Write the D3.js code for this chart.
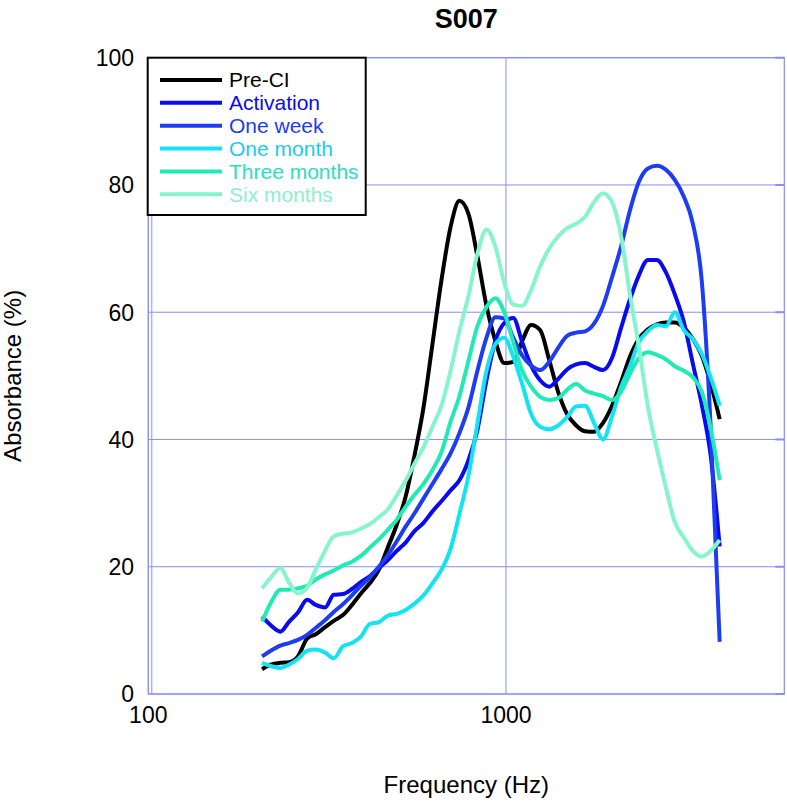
<!DOCTYPE html>
<meta charset="utf-8">
<script src="https://d3js.org/d3.v7.min.js"></script>
<style>
  body { margin: 0; background: #fff; }
  svg { display: block; font-family: "Liberation Sans", Arial, sans-serif; }
</style>
<div id="chart"></div>
<script>

// frequencies (Hz), 1/12 octave steps
var freqs = [208, 220, 234, 247, 262, 278, 294, 312, 330, 350, 371, 393,
  416, 441, 467, 495, 524, 555, 588, 623, 660, 700, 741, 785,
  832, 882, 934, 989, 1048, 1110, 1176, 1246, 1321, 1399, 1482, 1571,
  1664, 1763, 1868, 1979, 2097, 2221, 2353, 2493, 2641, 2798, 2965, 3141,
  3328, 3526, 3735, 3958]

// absorbance (%) per visit
var preCI = [3.9, 4.6, 4.9, 5.0, 5.9, 8.7, 9.4, 10.5, 11.5, 12.4, 14.0, 15.8,
  17.4, 19.5, 23.0, 26.6, 31.0, 37.5, 45.0, 55.0, 65.0, 73.4, 77.5, 75.5,
  68.8, 61.0, 55.5, 52.0, 52.2, 55.5, 58.0, 57.2, 52.5, 47.5, 44.0, 42.2,
  41.3, 41.2, 42.6, 45.3, 49.0, 53.0, 55.8, 57.3, 58.1, 58.4, 58.4, 57.6,
  55.8, 53.2, 48.8, 43.2]
var activation = [12.2, 10.8, 9.8, 11.3, 12.8, 14.8, 14.0, 13.6, 15.6, 15.7, 16.5, 17.6,
  18.5, 19.8, 21.0, 22.5, 23.8, 25.6, 26.9, 28.7, 30.3, 32.0, 33.6, 36.7,
  41.5, 49.3, 55.5, 58.3, 59.1, 55.3, 51.6, 49.3, 48.3, 49.5, 51.0, 51.8,
  52.0, 51.4, 50.9, 52.8, 57.5, 62.0, 65.8, 68.2, 68.2, 66.3, 62.8, 58.5,
  52.0, 45.5, 37.5, 23.2]
var oneWeek = [5.9, 6.8, 7.6, 8.0, 8.5, 9.3, 10.4, 11.6, 12.9, 14.1, 15.5, 17.0,
  18.3, 20.0, 21.8, 24.0, 26.3, 28.4, 30.7, 33.0, 35.3, 37.8, 41.0, 45.0,
  50.8, 56.0, 59.2, 59.0, 56.0, 53.2, 51.6, 50.9, 52.2, 54.4, 56.3, 56.8,
  57.0, 58.2, 61.0, 65.5, 70.3, 76.0, 80.5, 82.6, 83.0, 82.4, 80.8, 78.2,
  74.0, 65.0, 42.0, 8.2]
var oneMonth = [4.9, 4.4, 4.1, 4.6, 5.5, 6.8, 7.0, 6.5, 5.6, 7.5, 8.0, 9.0,
  11.0, 11.3, 12.3, 12.6, 13.2, 14.2, 15.5, 17.4, 19.5, 22.8, 28.3, 34.2,
  42.5, 50.8, 55.0, 56.0, 53.0, 48.7, 44.0, 42.0, 41.6, 42.2, 43.5, 45.2,
  45.3, 42.6, 40.0, 43.6, 48.2, 51.5, 55.3, 57.0, 58.0, 57.8, 60.0, 57.2,
  55.8, 53.5, 49.8, 45.3]
var threeMonths = [11.4, 14.3, 16.4, 16.4, 16.6, 17.0, 18.0, 18.8, 19.4, 20.2, 20.8, 21.7,
  23.0, 24.3, 25.8, 27.4, 29.4, 31.3, 33.0, 35.2, 38.0, 42.8, 46.8, 52.3,
  57.8, 60.8, 62.2, 60.0, 55.3, 50.8, 48.3, 46.7, 46.2, 46.5, 47.8, 48.7,
  47.7, 47.2, 46.8, 46.2, 47.5, 50.3, 52.8, 53.7, 53.3, 52.6, 51.5, 50.8,
  49.8, 47.5, 41.8, 33.6]
var sixMonths = [16.6, 18.3, 19.8, 17.6, 15.8, 16.7, 19.6, 22.5, 24.8, 25.2, 25.4, 26.0,
  26.7, 27.8, 29.0, 31.2, 33.5, 36.2, 38.8, 42.0, 45.3, 50.8, 57.0, 62.5,
  69.2, 73.0, 70.3, 64.6, 61.2, 61.0, 63.5, 67.2, 70.0, 71.9, 73.2, 73.9,
  75.0, 77.3, 78.7, 77.3, 72.0, 62.8, 54.6, 45.2, 38.5, 32.5, 27.0, 24.6,
  22.5, 21.6, 22.5, 24.2]

var seriesNames = ["Pre-CI", "Activation", "One week", "One month", "Three months", "Six months"]
var seriesValues = [preCI, activation, oneWeek, oneMonth, threeMonths, sixMonths]
var lineColors = ["#000000", "#0a0af0", "#1e3cf2", "#14e4f2", "#22eab6", "#86f4cc"]
var textColors = ["#000000", "#0a0af0", "#1e3cf2", "#1ccaf4", "#2cdcc4", "#8eeed0"]

var xTicks = [100, 1000]
var yTicks = [0, 20, 40, 60, 80, 100]

var width = 787,
    height = 805,
    plotLeft = 148.3, plotRight = 784.3, plotTop = 57.7, plotBottom = 694

var gridColor = "#8a8cff"

var svg = d3.select("#chart")
  .append("svg")
    .attr("width", width)
    .attr("height", height)

var x = d3.scaleLog()
  .domain([100, 6000])
  .range([plotLeft, plotRight])

var y = d3.scaleLinear()
  .domain([0, 100])
  .range([plotBottom, plotTop])

// grid
svg.selectAll(".hgrid")
  .data(yTicks)
  .enter()
  .append("line")
    .attr("x1", plotLeft).attr("x2", plotRight)
    .attr("y1", function(d) { return y(d) }).attr("y2", function(d) { return y(d) })
    .attr("stroke", gridColor)
    .attr("stroke-width", 1)

svg.selectAll(".vgrid")
  .data(xTicks)
  .enter()
  .append("line")
    .attr("x1", function(d) { return x(d) }).attr("x2", function(d) { return x(d) })
    .attr("y1", plotTop).attr("y2", plotBottom)
    .attr("stroke", gridColor)
    .attr("stroke-width", 1)

// inner left edge line, as in the original frame
svg.append("line")
  .attr("x1", plotLeft + 3.5).attr("x2", plotLeft + 3.5)
  .attr("y1", plotTop).attr("y2", plotBottom)
  .attr("stroke", gridColor)
  .attr("stroke-width", 1)

// little ticks on the right edge
svg.selectAll(".rtick")
  .data(yTicks)
  .enter()
  .append("line")
    .attr("x1", plotRight - 9).attr("x2", plotRight)
    .attr("y1", function(d) { return y(d) }).attr("y2", function(d) { return y(d) })
    .attr("stroke", gridColor)
    .attr("stroke-width", 2)

svg.append("rect")
  .attr("x", plotLeft).attr("y", plotTop)
  .attr("width", plotRight - plotLeft).attr("height", plotBottom - plotTop)
  .attr("fill", "none")
  .attr("stroke", gridColor)
  .attr("stroke-width", 1.2)

// tick labels
svg.selectAll(".ylab")
  .data(yTicks)
  .enter()
  .append("text")
    .attr("x", 134)
    .attr("y", function(d) { return y(d) })
    .attr("dy", "0.36em")
    .attr("text-anchor", "end")
    .style("font-size", "23px")
    .text(function(d) { return d })

svg.selectAll(".xlab")
  .data(xTicks)
  .enter()
  .append("text")
    .attr("x", function(d) { return x(d) })
    .attr("y", 723)
    .attr("text-anchor", "middle")
    .style("font-size", "23px")
    .text(function(d) { return d })

// title and axis names
svg.append("text")
  .attr("x", (plotLeft + plotRight) / 2)
  .attr("y", 28)
  .attr("text-anchor", "middle")
  .style("font-size", "27px")
  .style("font-weight", "bold")
  .text("S007")

svg.append("text")
  .attr("x", (plotLeft + plotRight) / 2)
  .attr("y", 793)
  .attr("text-anchor", "middle")
  .style("font-size", "24px")
  .text("Frequency (Hz)")

svg.append("text")
  .attr("transform", "translate(21," + (plotTop + plotBottom) / 2 + ") rotate(-90)")
  .attr("text-anchor", "middle")
  .style("font-size", "24px")
  .text("Absorbance (%)")

// curves
var line = d3.line()
  .x(function(d) { return x(d[0]) })
  .y(function(d) { return y(d[1]) })
  .curve(d3.curveMonotoneX)

seriesValues.forEach(function(vals, i) {
  svg.append("path")
    .datum(freqs.map(function(f, j) { return [f, vals[j]] }))
    .attr("d", line)
    .attr("fill", "none")
    .attr("stroke", lineColors[i])
    .attr("stroke-width", 4)
    .attr("stroke-linejoin", "round")
})

// legend
var legend = svg.append("g")

legend.append("rect")
  .attr("x", 147.7).attr("y", 57.7)
  .attr("width", 218).attr("height", 157.3)
  .attr("fill", "#fff")
  .attr("stroke", "#000")
  .attr("stroke-width", 2)

seriesNames.forEach(function(name, i) {
  var ly = 80 + i * 22.85
  legend.append("line")
    .attr("x1", 160).attr("x2", 222)
    .attr("y1", ly).attr("y2", ly)
    .attr("stroke", lineColors[i])
    .attr("stroke-width", 4)
  legend.append("text")
    .attr("x", 229)
    .attr("y", ly + 7.4)
    .style("font-size", "21px")
    .attr("fill", textColors[i])
    .text(name)
})

</script>
